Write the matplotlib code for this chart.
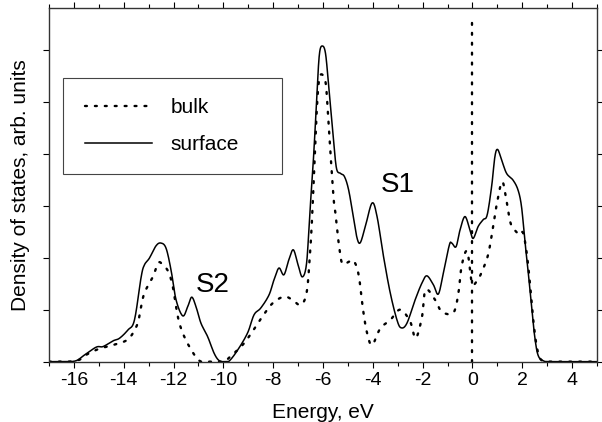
# Density of states: bulk vs surface
import matplotlib.pyplot as plt
import numpy as np
from matplotlib.ticker import MultipleLocator
from matplotlib.patches import Rectangle

plt.rcParams['font.family'] = ['Liberation Sans', 'DejaVu Sans']
plt.rcParams['axes.unicode_minus'] = False

# surface DOS (solid)
surf_E = [-17.0, -16.3, -15.9, -15.57, -15.1, -14.83, -14.43, -14.17, -13.83, -13.57,
          -13.3, -13.17, -12.97, -12.7, -12.5, -12.3, -12.1, -11.9, -11.63, -11.43,
          -11.27, -11.1, -10.9, -10.63, -10.37, -10.17, -9.95, -9.77, -9.43, -9.03,
          -8.77, -8.5, -8.17, -7.97, -7.77, -7.57, -7.37, -7.19, -7.0, -6.83,
          -6.66, -6.53, -6.37, -6.23, -6.14, -6.03, -5.9, -5.77, -5.59, -5.46,
          -5.3, -5.14, -4.97, -4.77, -4.63, -4.5, -4.3, -4.03, -3.83, -3.57,
          -3.3, -3.03, -2.86, -2.63, -2.3, -2.03, -1.83, -1.57, -1.37, -1.17,
          -0.93, -0.83, -0.66, -0.5, -0.3, -0.1, 0.03, 0.23, 0.43, 0.59,
          0.77, 0.9, 1.01, 1.17, 1.37, 1.63, 1.83, 1.97, 2.1, 2.23,
          2.37, 2.5, 2.63, 2.83, 3.2, 5.0]
surf_D = [0.0, 0.0, 0.02, 0.13, 0.28, 0.29, 0.40, 0.45, 0.61, 0.80,
          1.63, 1.86, 1.99, 2.23, 2.28, 2.18, 1.76, 1.19, 0.88, 1.06,
          1.24, 1.06, 0.74, 0.48, 0.16, 0.02, 0.0, 0.01, 0.22, 0.55,
          0.90, 1.03, 1.28, 1.57, 1.80, 1.67, 1.96, 2.15, 1.86, 1.63,
          1.89, 2.85, 4.01, 5.29, 5.93, 6.07, 5.93, 5.29, 4.33, 3.72,
          3.62, 3.56, 3.30, 2.75, 2.37, 2.29, 2.60, 3.05, 2.79, 2.02,
          1.32, 0.80, 0.65, 0.74, 1.19, 1.51, 1.65, 1.48, 1.30, 1.70,
          2.24, 2.28, 2.21, 2.53, 2.79, 2.53, 2.37, 2.60, 2.73, 2.82,
          3.37, 3.94, 4.08, 3.88, 3.62, 3.49, 3.30, 2.98, 2.34, 1.76,
          1.06, 0.48, 0.13, 0.02, 0.0, 0.0]

# bulk DOS (dotted)
bulk_E = [-17.0, -16.2, -15.76, -15.63, -15.03, -14.43, -13.83, -13.46, -13.33, -13.17,
          -12.83, -12.61, -12.43, -12.21, -12.03, -11.83, -11.63, -11.33, -10.97, -10.6,
          -10.0, -9.7, -9.23, -8.83, -8.43, -8.03, -7.57, -7.23, -6.9, -6.66,
          -6.53, -6.43, -6.3, -6.21, -6.13, -6.01, -5.89, -5.81, -5.7, -5.57,
          -5.5, -5.37, -5.23, -4.97, -4.77, -4.57, -4.39, -4.23, -4.03, -3.7,
          -3.3, -2.9, -2.5, -2.28, -2.03, -1.88, -1.5, -1.23, -0.77, -0.57,
          -0.43, -0.21, -0.02, 0.2, 0.37, 0.63, 0.83, 0.98, 1.19, 1.35,
          1.5, 1.63, 1.9, 2.03, 2.17, 2.3, 2.42, 2.55, 2.68, 2.85,
          3.2, 5.0]
bulk_D = [0.0, 0.0, 0.04, 0.10, 0.24, 0.32, 0.43, 0.71, 0.99, 1.32,
          1.63, 1.90, 1.86, 1.73, 1.44, 0.87, 0.55, 0.26, 0.02, 0.0,
          0.0, 0.11, 0.32, 0.58, 0.87, 1.12, 1.25, 1.19, 1.09, 1.32,
          2.02, 2.85, 4.33, 5.16, 5.48, 5.51, 5.35, 4.84, 4.01, 3.11,
          2.85, 2.28, 1.89, 1.92, 1.94, 1.67, 0.99, 0.55, 0.32, 0.64,
          0.80, 1.00, 0.77, 0.45, 0.85, 1.38, 1.19, 0.96, 0.94, 1.30,
          1.85, 2.12, 1.51, 1.57, 1.72, 2.06, 2.60, 3.04, 3.46, 3.14,
          2.72, 2.57, 2.44, 2.48, 2.12, 1.55, 0.90, 0.38, 0.10, 0.01,
          0.0, 0.0]

# smooth the hand-read points (Catmull-Rom)
def smooth(x, y, n=12):
    x = np.asarray(x, float)
    y = np.asarray(y, float)
    px = np.concatenate([[x[0]], x, [x[-1]]])
    py = np.concatenate([[y[0]], y, [y[-1]]])
    xs, ys = [], []
    t = np.linspace(0, 1, n, endpoint=False)
    for i in range(1, len(px) - 2):
        p0, p1, p2, p3 = [np.array([px[j], py[j]]) for j in (i - 1, i, i + 1, i + 2)]
        for tt in t:
            pt = 0.5 * ((2 * p1) + (-p0 + p2) * tt
                        + (2 * p0 - 5 * p1 + 4 * p2 - p3) * tt ** 2
                        + (-p0 + 3 * p1 - 3 * p2 + p3) * tt ** 3)
            xs.append(pt[0])
            ys.append(max(pt[1], 0.0))
    xs.append(x[-1])
    ys.append(y[-1])
    return np.array(xs), np.array(ys)

sx, sy = smooth(surf_E, surf_D)
bx, by = smooth(bulk_E, bulk_D)

fig = plt.figure(figsize=(6.02, 4.22), dpi=100)
ax = fig.add_axes([0.0814, 0.143, 0.9103, 0.838])

dots = (0, (0.8, 3.4))
ax.plot(bx, by, color='black', lw=1.7, linestyle=dots, dash_capstyle='round', label='bulk')
ax.plot(sx, sy, color='black', lw=1.1, label='surface')
ax.plot([0, 0], [0, 6.6], color='black', lw=1.7, linestyle=dots, dash_capstyle='round')

ax.text(-3.0, 3.4, 'S1', fontsize=20, ha='center', va='center')
ax.text(-10.43, 1.47, 'S2', fontsize=20, ha='center', va='center')

ax.set_xlim(-17, 5)
ax.set_ylim(0, 6.8)
ax.xaxis.set_major_locator(MultipleLocator(2))
ax.xaxis.set_minor_locator(MultipleLocator(1))
ax.yaxis.set_major_locator(MultipleLocator(1))
ax.set_yticklabels([])
ax.tick_params(axis='both', which='both', direction='out', labelsize=14, width=0.8, pad=3)
ax.tick_params(axis='both', which='major', length=4.5)
ax.tick_params(axis='both', which='minor', length=3)
ax.tick_params(top=True, right=True, which='both')
for s in ax.spines.values():
    s.set_linewidth(1.0)
    s.set_color('#333333')

ax.set_xlabel('Energy, eV', fontsize=15, labelpad=10)
ax.set_ylabel('Density of states, arb. units', fontsize=15, labelpad=6)

# legend frame drawn by hand so it keeps the wide right margin of the original
ax.add_patch(Rectangle((0.0255, 0.531), 0.3995, 0.271, transform=ax.transAxes,
                       fill=False, edgecolor='#444444', lw=0.8, zorder=4))
leg = ax.legend(loc='center left', bbox_to_anchor=(0.0657, 0.666), fontsize=15,
                frameon=False, handlelength=3.2, borderpad=0, labelspacing=0.85,
                handletextpad=0.9, borderaxespad=0)

plt.savefig('out.png', dpi=100)
